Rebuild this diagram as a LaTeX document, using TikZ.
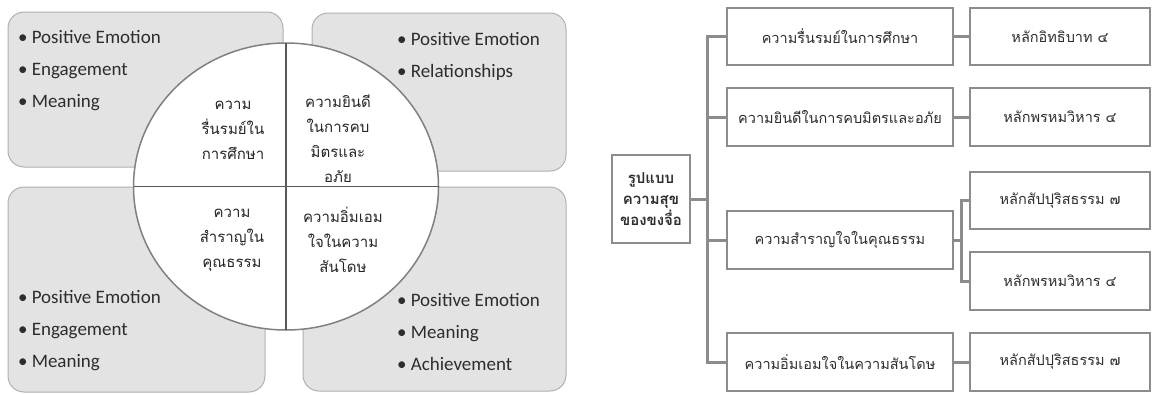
\documentclass[tikz,border=0pt]{standalone}
\usepackage{fontspec}
\setmainfont{Carlito}
\newfontfamily\thaifont[Script=Thai]{Loma}
\usetikzlibrary{shapes.geometric}
\definecolor{panelgray}{RGB}{227,227,227}
\definecolor{panelline}{RGB}{176,176,176}
\definecolor{boxline}{RGB}{140,140,140}
\definecolor{inkgray}{RGB}{45,45,45}
\begin{document}
\begin{tikzpicture}[x=1pt,y=-1pt,inner sep=0pt,outer sep=0pt,
panel/.style={draw=panelline,fill=panelgray,rounded corners=16pt,line width=1pt},
bullets/.style={align=left,anchor=north west,text=inkgray,font=\fontsize{19}{32}\selectfont},
quarter/.style={align=center,text=black!85,font=\thaifont\fontsize{15}{25}\selectfont},
treebox/.style={draw=boxline,line width=2pt,rectangle,text=inkgray,font=\thaifont\fontsize{14.5}{20}\selectfont},
link/.style={draw=boxline,line width=3pt}]
\useasboundingbox (0,0) rectangle (1152,394);
% four panels behind the wheel
\draw (145.5,89.5) node[panel,minimum width=275,minimum height=155] (pTL) {};
\draw (439,92) node[panel,minimum width=254,minimum height=158] (pTR) {};
\draw (136.5,289.5) node[panel,minimum width=257,minimum height=205] (pBL) {};
\draw (434.5,289) node[panel,minimum width=263,minimum height=204] (pBR) {};
\draw (18,30) node[bullets] (tTL) {• Positive Emotion\\• Engagement\\• Meaning};
\draw (397,32) node[bullets] (tTR) {• Positive Emotion\\• Relationships};
\draw (18,290) node[bullets] (tBL) {• Positive Emotion\\• Engagement\\• Meaning};
\draw (397,293) node[bullets] (tBR) {• Positive Emotion\\• Meaning\\• Achievement};

% the wheel
\draw (286,186.5) node[draw=gray,line width=1.5pt,fill=white,ellipse,minimum width=305,minimum height=287] (wheel) {};
\draw[line width=1.5pt,draw=black!65] (wheel.north) -- (wheel.south);
\draw[line width=1.5pt,draw=black!65] (wheel.west) -- (wheel.east);
\draw (233,130) node[quarter] (qTL) {ความ\\รื่นรมย์ใน\\การศึกษา};
\draw (338,139) node[quarter] (qTR) {ความยินดี\\ในการคบ\\มิตรและ\\อภัย};
\draw (232,240) node[quarter] (qBL) {ความ\\สำราญใน\\คุณธรรม};
\draw (343,240) node[quarter] (qBR) {ความอิ่มเอม\\ใจในความ\\สันโดษ};

% tree
\draw (651,199) node[treebox,minimum width=78,minimum height=88,align=center,font=\thaifont\bfseries\fontsize{15}{21}\selectfont] (root) {รูปแบบ\\ความสุข\\ของขงจื่อ};
\draw (840,36.5) node[treebox,minimum width=226,minimum height=57] (l1a) {ความรื่นรมย์ในการศึกษา};
\draw (840,117) node[treebox,minimum width=226,minimum height=58] (l1b) {ความยินดีในการคบมิตรและอภัย};
\draw (840,240) node[treebox,minimum width=226,minimum height=58] (l1c) {ความสำราญใจในคุณธรรม};
\draw (840,362) node[treebox,minimum width=226,minimum height=58] (l1d) {ความอิ่มเอมใจในความสันโดษ};
\draw (1060,36.5) node[treebox,minimum width=180,minimum height=57] (l2a) {หลักอิทธิบาท ๔};
\draw (1060,117) node[treebox,minimum width=180,minimum height=58] (l2b) {หลักพรหมวิหาร ๔};
\draw (1060,200.5) node[treebox,minimum width=180,minimum height=57] (l2c) {หลักสัปปุริสธรรม ๗};
\draw (1060,281) node[treebox,minimum width=180,minimum height=58] (l2d) {หลักพรหมวิหาร ๔};
\draw (1060,362) node[treebox,minimum width=180,minimum height=58] (l2e) {หลักสัปปุริสธรรม ๗};
\coordinate (trunk) at (707,0);
\coordinate (fork) at (961,0);

\draw[link] (root.east) -- (root.east -| trunk);
\draw[link] (l1a.west) -- (l1a.west -| trunk) -- (l1d.west -| trunk) -- (l1d.west);
\draw[link] (l1b.west) -- (l1b.west -| trunk);
\draw[link] (l1c.west) -- (l1c.west -| trunk);
\draw[link] (l1a.east) -- (l2a.west);
\draw[link] (l1b.east) -- (l2b.west);
\draw[link] (l1d.east) -- (l2e.west);
\draw[link] (l1c.east) -- (l1c.east -| fork);
\draw[link] (l2c.west) -- (l2c.west -| fork) -- (l2d.west -| fork) -- (l2d.west);
\end{tikzpicture}
\end{document}
